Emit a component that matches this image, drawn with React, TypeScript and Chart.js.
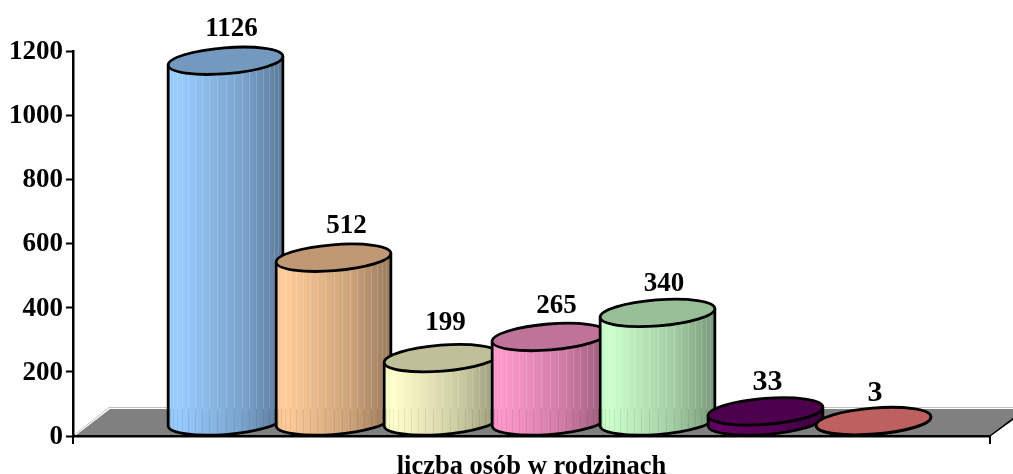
import React, { useEffect, useRef } from "react";
import { Chart, registerables } from "chart.js";

Chart.register(...registerables);

const familySizes = [1, 2, 3, 4, 5, 6, 7];
const familyCounts = [1126, 512, 199, 265, 340, 33, 3];
const barColors = ["#99CCFF", "#FFCC99", "#FFFFCC", "#FF99CC", "#CCFFCC", "#660066", "#FF8080"];
const yTicks = [0, 200, 400, 600, 800, 1000, 1200];
const xTitle = "liczba osób w rodzinach";

const FONT = '"Liberation Serif", serif';
const labelSizes = [27, 27, 27, 27, 27, 30, 30];
const labelGaps = [46, 46, 49, 45, 43, 43, 42];
const labelShifts = [6, 13, 4, 7, 6.5, 2, 1.5];

function rgb(hex: string): number[] {
  return [1, 3, 5].map((i) => parseInt(hex.slice(i, i + 2), 16));
}
function shade(hex: string, k: number): string {
  const [r, g, b] = rgb(hex);
  return `rgb(${Math.round(r * k)},${Math.round(g * k)},${Math.round(b * k)})`;
}

const floorPlugin = {
  id: "floor",
  beforeDraw(chart: any) {
    const { left, right, bottom } = chart.chartArea;
    const ctx = chart.ctx;
    const dx = 36;
    const dy = 27;
    ctx.save();
    ctx.fillStyle = "#808080";
    ctx.beginPath();
    ctx.moveTo(left + 2, bottom);
    ctx.lineTo(left + dx + 1, bottom - dy);
    ctx.lineTo(right + 40, bottom - dy);
    ctx.lineTo(right, bottom);
    ctx.closePath();
    ctx.fill();
    ctx.strokeStyle = "#c0c0c0";
    ctx.lineWidth = 1;
    ctx.beginPath();
    ctx.moveTo(left, bottom);
    ctx.lineTo(left + dx, bottom - dy - 1.5);
    ctx.lineTo(right + 40, bottom - dy - 1.5);
    ctx.stroke();
    ctx.strokeStyle = "#000";
    ctx.lineWidth = 1.5;
    ctx.beginPath();
    ctx.moveTo(right, bottom);
    ctx.lineTo(right + 26, bottom - 19.5);
    ctx.stroke();
    ctx.restore();
  },
};

const cylinderPlugin = {
  id: "cylinders",
  afterDatasetsDraw(chart: any) {
    const ctx = chart.ctx;
    const meta = chart.getDatasetMeta(0);
    const floorY = chart.chartArea.bottom - 27;
    const tilt = (-4.5 * Math.PI) / 180;
    const lift = 14;
    meta.data.forEach((el: any, i: number) => {
      const base = barColors[i];
      const a = el.width / 2 + 0.5;
      const b = 13;
      const cx = el.x;
      const topY = el.y - lift;
      const baseY = el.base - lift;
      const hw = Math.sqrt(a * a * Math.cos(tilt) ** 2 + b * b * Math.sin(tilt) ** 2);
      const off = ((a * a - b * b) * Math.sin(tilt) * Math.cos(tilt)) / hw;
      const t0 = Math.atan2(-b * Math.sin(tilt), a * Math.cos(tilt));

      const bodyPath = () => {
        ctx.beginPath();
        ctx.moveTo(cx + hw, topY + off);
        ctx.lineTo(cx + hw, baseY + off);
        ctx.ellipse(cx, baseY, a, b, tilt, t0, t0 + Math.PI);
        ctx.lineTo(cx - hw, topY - off);
        ctx.closePath();
      };

      ctx.save();
      const g = ctx.createLinearGradient(cx - hw, 0, cx + hw, 0);
      g.addColorStop(0, shade(base, 0.96));
      g.addColorStop(0.08, shade(base, 1));
      g.addColorStop(0.3, shade(base, 0.92));
      g.addColorStop(0.65, shade(base, 0.8));
      g.addColorStop(1, shade(base, 0.6));
      bodyPath();
      ctx.fillStyle = g;
      ctx.fill();
      ctx.save();
      bodyPath();
      ctx.clip();
      ctx.lineWidth = 1;
      const steps = 22;
      const minY = Math.min(topY - off, topY + off) - 20;
      const maxY = baseY + 20;
      for (let s = 1; s < steps; s++) {
        const phi = -Math.PI / 2 + (Math.PI * s) / steps;
        const x = Math.round(cx + hw * Math.sin(phi)) + 0.5;
        ctx.strokeStyle = "rgba(255,255,255,0.16)";
        ctx.beginPath();
        ctx.moveTo(x, minY);
        ctx.lineTo(x, Math.max(minY, floorY));
        ctx.stroke();
        ctx.strokeStyle = "rgba(0,0,0,0.07)";
        ctx.beginPath();
        ctx.moveTo(x, Math.max(minY, floorY));
        ctx.lineTo(x, maxY);
        ctx.stroke();
      }
      ctx.restore();
      ctx.strokeStyle = "#000";
      ctx.lineWidth = 2.8;
      ctx.lineJoin = "round";
      bodyPath();
      ctx.stroke();
      ctx.beginPath();
      ctx.ellipse(cx, topY, a, b, tilt, 0, Math.PI * 2);
      ctx.fillStyle = shade(base, 0.75);
      ctx.fill();
      ctx.stroke();
      ctx.restore();
    });
  },
  afterDraw(chart: any) {
    const ctx = chart.ctx;
    const { left, right, bottom } = chart.chartArea;
    const meta = chart.getDatasetMeta(0);
    ctx.save();
    ctx.strokeStyle = "#000";
    ctx.lineWidth = 2;
    ctx.beginPath();
    ctx.moveTo(left, bottom);
    ctx.lineTo(left, bottom + 8);
    ctx.moveTo(right, bottom);
    ctx.lineTo(right, bottom + 8);
    ctx.stroke();
    ctx.fillStyle = "#000";
    ctx.textAlign = "center";
    ctx.textBaseline = "middle";
    meta.data.forEach((el: any, i: number) => {
      ctx.font = `bold ${labelSizes[i]}px ${FONT}`;
      ctx.fillText(String(familyCounts[i]), el.x + labelShifts[i], el.y - labelGaps[i]);
    });
    ctx.restore();
  },
};

export default function App() {
  const ref = useRef<HTMLCanvasElement>(null);
  useEffect(() => {
    if (!ref.current) return;
    const chart = new Chart(ref.current, {
      type: "bar",
      data: {
        datasets: [
          {
            data: familySizes.map((x, i) => ({ x, y: familyCounts[i] })),
            backgroundColor: "transparent",
            borderWidth: 0,
            barThickness: 114,
          },
        ],
      },
      options: {
        responsive: false,
        animation: false,
        layout: { padding: { top: 51, right: 23, left: 0, bottom: 0 } },
        plugins: { legend: { display: false }, tooltip: { enabled: false } },
        scales: {
          x: {
            type: "linear",
            offset: false,
            min: 1 - 152.5 / 108,
            max: 1 + (990 - 225.5) / 108,
            grid: { display: false },
            border: { color: "#000", width: 2.5 },
            ticks: { display: false },
            title: {
              display: true,
              text: xTitle,
              color: "#000",
              font: { family: FONT, size: 26.5, weight: "bold" },
              padding: { top: 14, bottom: -9 },
            },
            afterFit(scale: any) {
              scale.height = 38;
            },
          },
          y: {
            min: 0,
            max: 1200,
            afterBuildTicks(scale: any) {
              scale.ticks = yTicks.map((value) => ({ value }));
            },
            grid: {
              drawOnChartArea: false,
              drawTicks: true,
              tickLength: 7,
              tickWidth: 2,
              tickColor: "#000",
            },
            border: { color: "#000", width: 2.5 },
            ticks: {
              color: "#000",
              padding: 3,
              labelOffset: 1,
              font: { family: FONT, size: 27, weight: "bold" },
              callback: (v: any) => String(v),
            },
            afterFit(scale: any) {
              scale.width = 73;
            },
          },
        },
      },
      plugins: [floorPlugin, cylinderPlugin],
    } as any);
    return () => chart.destroy();
  }, []);
  return (
    <canvas
      ref={ref}
      width={1013}
      height={474}
      style={{ position: "absolute", left: 0, top: 0, display: "block" }}
    />
  );
}
